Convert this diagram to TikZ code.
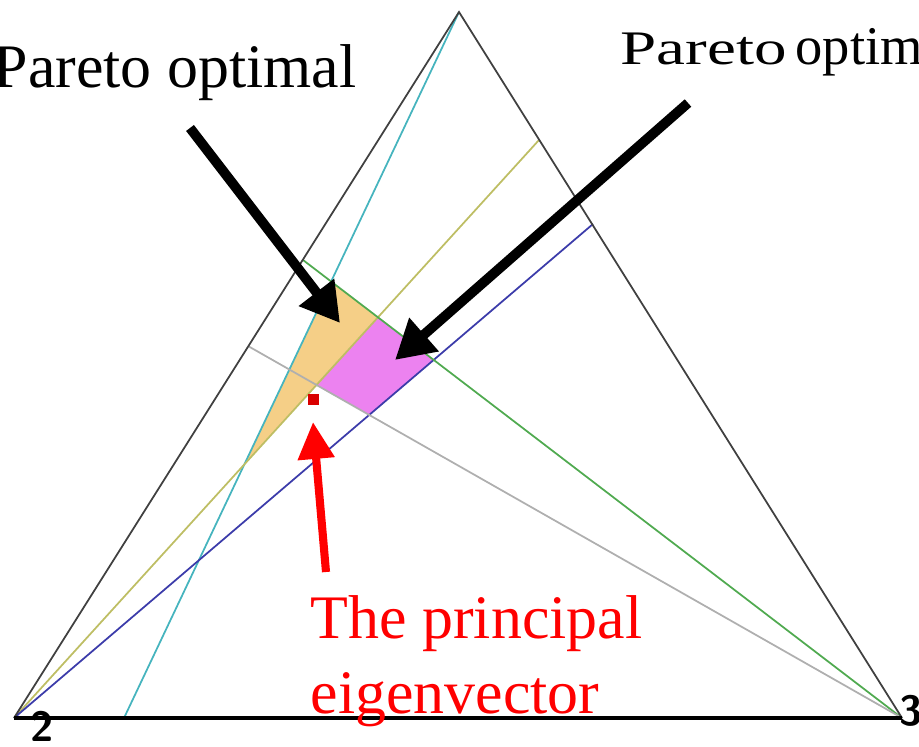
\documentclass[tikz,border=0pt]{standalone}
\usepackage{fontspec}
\setmainfont{Liberation Serif}
\usetikzlibrary{arrows.meta}
\definecolor{lncyan}{RGB}{70,180,190}
\definecolor{lnolive}{RGB}{190,190,100}
\definecolor{lnblue}{RGB}{60,60,170}
\definecolor{lngreen}{RGB}{80,170,80}
\definecolor{lngray}{RGB}{175,175,175}
\definecolor{regorange}{RGB}{245,207,135}
\definecolor{regpink}{RGB}{236,130,240}
\definecolor{evred}{RGB}{255,0,0}

\begin{document}
\begin{tikzpicture}[
  x=0.01cm, y=-0.01cm,
  side/.style={black!75, line width=0.5pt},
  ray/.style={line width=0.5pt},
  pointer/.style={-{Triangle[length=11pt,width=12pt]}, line width=2.8pt},
  txt/.style={inner sep=0pt, anchor=base west},
  corner/.style={inner sep=0pt, font=\sffamily\bfseries\fontsize{12}{12}\selectfont}
]
  \useasboundingbox (0,0) rectangle (919,746);

  % Triangle corners and line ends
  \coordinate (A) at (14,718);
  \coordinate (B) at (902,718);
  \coordinate (C) at (459,12);
  \coordinate (cy) at (124,718);
  \coordinate (ol) at (539,140);
  \coordinate (bl) at (593,224);
  \coordinate (gr) at (303,260);
  \coordinate (gy) at (248,346);

  % Region corners
  \coordinate (o1) at (intersection of cy--C and gr--B);
  \coordinate (o2) at (intersection of gr--B and A--ol);
  \coordinate (o3) at (intersection of cy--C and A--ol);
  \coordinate (p1) at (intersection of A--bl and gr--B);
  \coordinate (p2) at (intersection of A--bl and gy--B);
  \coordinate (p3) at (intersection of gy--B and A--ol);

  % Pareto regions
  \fill[regorange] (o1) -- (o2) -- (o3) -- cycle;
  \fill[regpink] (o2) -- (p1) -- (p2) -- (p3) -- cycle;

  % Lines
  \draw[ray, lncyan] (cy) -- (C);
  \draw[ray, lnolive] (A) -- (ol);
  \draw[ray, lnblue] (A) -- (bl);
  \draw[ray, lngreen] (gr) -- (B);
  \draw[ray, lngray] (gy) -- (B);

  % Triangle
  \draw[side] (A) -- (C) -- (B);
  \draw[line width=1pt] (A) -- (B);
  \node[corner] (c2) at (42,726) {2};
  \node[corner] (c3) at (911,711) {3};

  % Eigenvector
  \fill[red!85!black] (308,394) rectangle (319,405);

  % Labels
  \node[txt, anchor=base east, font=\fontsize{17.6}{20}\selectfont] (lp) at (357,88) {Pareto optimal};
  \node[txt] (rp) at (620,65)
    {\scalebox{1.35}[1]{\fontsize{13.7}{15}\selectfont Pareto} {\fontsize{15.5}{17}\selectfont optimal}};
  \node[txt, evred, align=left, font=\fontsize{17.6}{21.3}\selectfont] (ev) at (310,713)
    {The principal\\eigenvector};

  % Arrows
  \coordinate (la) at (190,128);
  \coordinate (lt) at (340,323);
  \coordinate (ra) at (688,103);
  \coordinate (rt) at (395,360);
  \coordinate (ea) at (326,572);
  \coordinate (et) at (313,422);
  \draw[pointer] (la) -- (lt);
  \draw[pointer] (ra) -- (rt);
  \draw[pointer, evred, line width=2.3pt, -{Triangle[length=10.5pt,width=10pt]}] (ea) -- (et);
\end{tikzpicture}
\end{document}
